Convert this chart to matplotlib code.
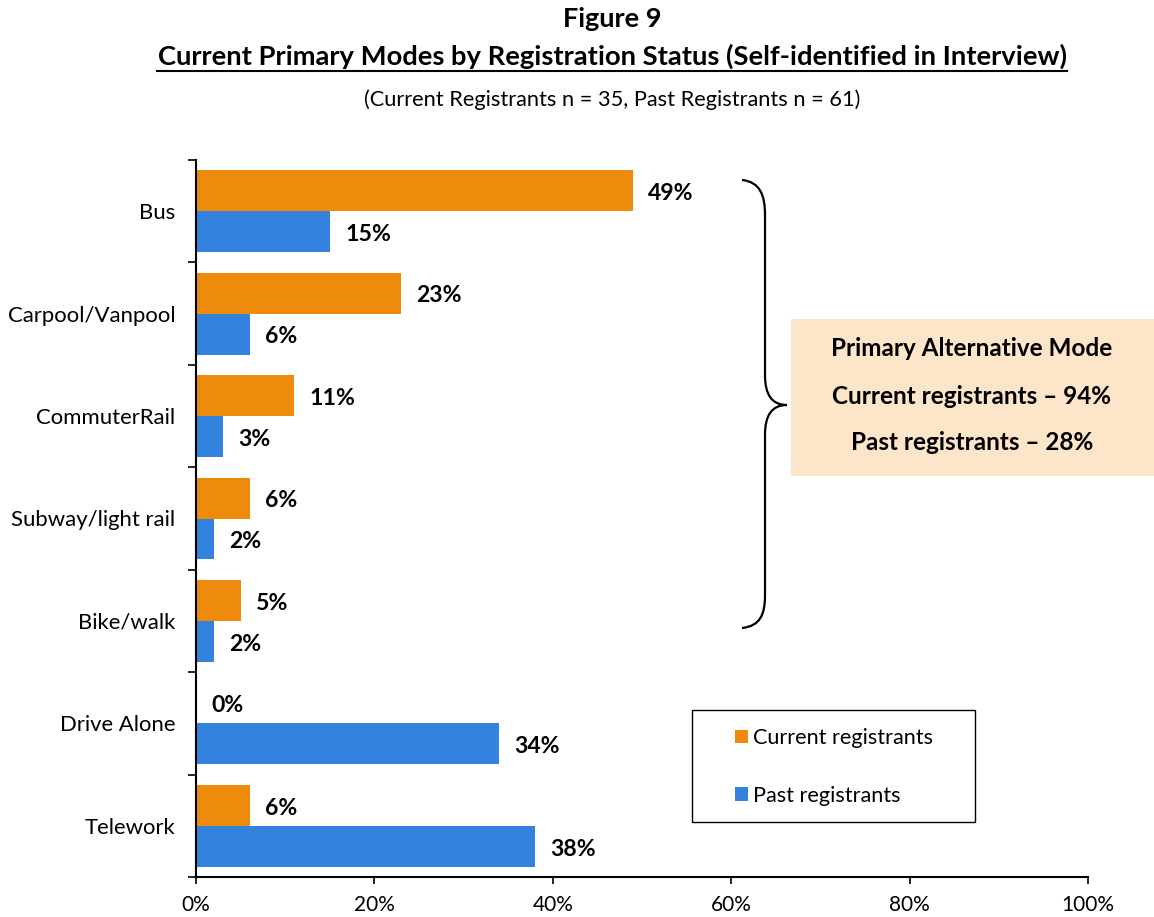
import matplotlib
matplotlib.use('Agg')
import matplotlib.pyplot as plt
from matplotlib.path import Path
from matplotlib.patches import PathPatch, Rectangle, Patch
from matplotlib.lines import Line2D

# data
modes = ['Bus', 'Carpool/Vanpool', 'CommuterRail', 'Subway/light rail',
         'Bike/walk', 'Drive Alone', 'Telework']
current = [49, 23, 11, 6, 5, 0, 6]
past = [15, 6, 3, 2, 2, 34, 38]
xticks = [0, 20, 40, 60, 80, 100]

orange = '#EE8B0C'
blue = '#3282DE'

plt.rcParams['font.family'] = ['Lato', 'DejaVu Sans']

W, H = 1154, 917
fig = plt.figure(figsize=(W / 100, H / 100), dpi=100)
ax = fig.add_axes([196 / W, 1 - 877 / H, (1088 - 196) / W, (877 - 160) / H])


def fx(px):
    return px / W


def fy(py):
    return 1 - py / H


pos = list(range(len(modes)))
ax.barh([p - 0.2 for p in pos], current, height=0.4, color=orange, label='Current registrants')
ax.barh([p + 0.2 for p in pos], past, height=0.4, color=blue, label='Past registrants')

for p, v in zip(pos, current):
    ax.annotate(f'{v}%', (v, p - 0.2), xytext=(11, -2), textcoords='offset points',
                ha='left', va='center', fontsize=16.6, fontweight='bold')
for p, v in zip(pos, past):
    ax.annotate(f'{v}%', (v, p + 0.2), xytext=(11, -2), textcoords='offset points',
                ha='left', va='center', fontsize=16.6, fontweight='bold')

ax.set_xlim(0, 100)
ax.set_ylim(len(modes) - 0.5, -0.5)
ax.set_xticks(xticks)
ax.set_xticklabels([f'{t}%' for t in xticks], fontsize=15)
ax.set_yticks(pos)
ax.set_yticklabels(modes, fontsize=15.9)
ax.set_yticks([p - 0.5 for p in range(len(modes) + 1)], minor=True)
ax.tick_params(axis='y', which='major', length=0, pad=15)
ax.tick_params(axis='y', which='minor', length=6, width=1.2)
ax.tick_params(axis='x', length=5, width=1.2, pad=8)
for s in ['top', 'right']:
    ax.spines[s].set_visible(False)
for s in ['left', 'bottom']:
    ax.spines[s].set_linewidth(1.5)

# titles
fig.text(fx(612), fy(19), 'Figure 9', ha='center', va='center', fontsize=19.5, fontweight='bold')
t2 = fig.text(fx(612), fy(56), 'Current Primary Modes by Registration Status (Self-identified in Interview)',
              ha='center', va='center', fontsize=19.7, fontweight='bold')
fig.text(fx(612), fy(100), '(Current Registrants n = 35, Past Registrants n = 61)',
         ha='center', va='center', fontsize=15.7)

fig.canvas.draw()
bb = t2.get_window_extent(fig.canvas.get_renderer())
fig.add_artist(Line2D([bb.x0 / W, bb.x1 / W], [fy(71), fy(71)], color='black', lw=1.5,
                      transform=fig.transFigure))

# brace
verts = [(742, 180), (760, 182), (765, 195), (765, 215),
         (765, 375),
         (765, 395), (772, 405), (787, 405),
         (772, 405), (765, 415), (765, 435),
         (765, 595),
         (765, 615), (760, 626), (742, 628)]
codes = [Path.MOVETO, Path.CURVE4, Path.CURVE4, Path.CURVE4,
         Path.LINETO,
         Path.CURVE4, Path.CURVE4, Path.CURVE4,
         Path.CURVE4, Path.CURVE4, Path.CURVE4,
         Path.LINETO,
         Path.CURVE4, Path.CURVE4, Path.CURVE4]
brace = Path([(fx(x), fy(y)) for x, y in verts], codes)
fig.add_artist(PathPatch(brace, transform=fig.transFigure, fill=False, lw=1.6, edgecolor='black'))

# summary box
fig.add_artist(Rectangle((fx(791), fy(476)), fx(1154) - fx(791), fy(319) - fy(476),
                         transform=fig.transFigure, facecolor='#FDE5C9', edgecolor='none'))
for y, s in [(349, 'Primary Alternative Mode'), (396, 'Current registrants \u2013 94%'),
             (443, 'Past registrants \u2013 28%')]:
    fig.text(fx(972), fy(y), s, ha='center', va='center', fontsize=17.5, fontweight='bold')

# legend: frame drawn separately
fig.add_artist(Rectangle((fx(692), fy(822)), fx(975) - fx(692), fy(710) - fy(822),
                         transform=fig.transFigure, facecolor='white', edgecolor='black', lw=1.0))
handles = [Patch(facecolor=orange), Patch(facecolor=blue)]
leg = fig.legend(handles, ['Current registrants', 'Past registrants'],
                 loc='center left', bbox_to_anchor=(fx(735), fy(767)),
                 bbox_transform=fig.transFigure, frameon=False,
                 fontsize=15.6, handlelength=0.6, handleheight=0.6,
                 handletextpad=0.25, labelspacing=1.75, borderpad=0, borderaxespad=0)
leg._legend_box.align = 'left'

fig.savefig('out.png', dpi=100)
